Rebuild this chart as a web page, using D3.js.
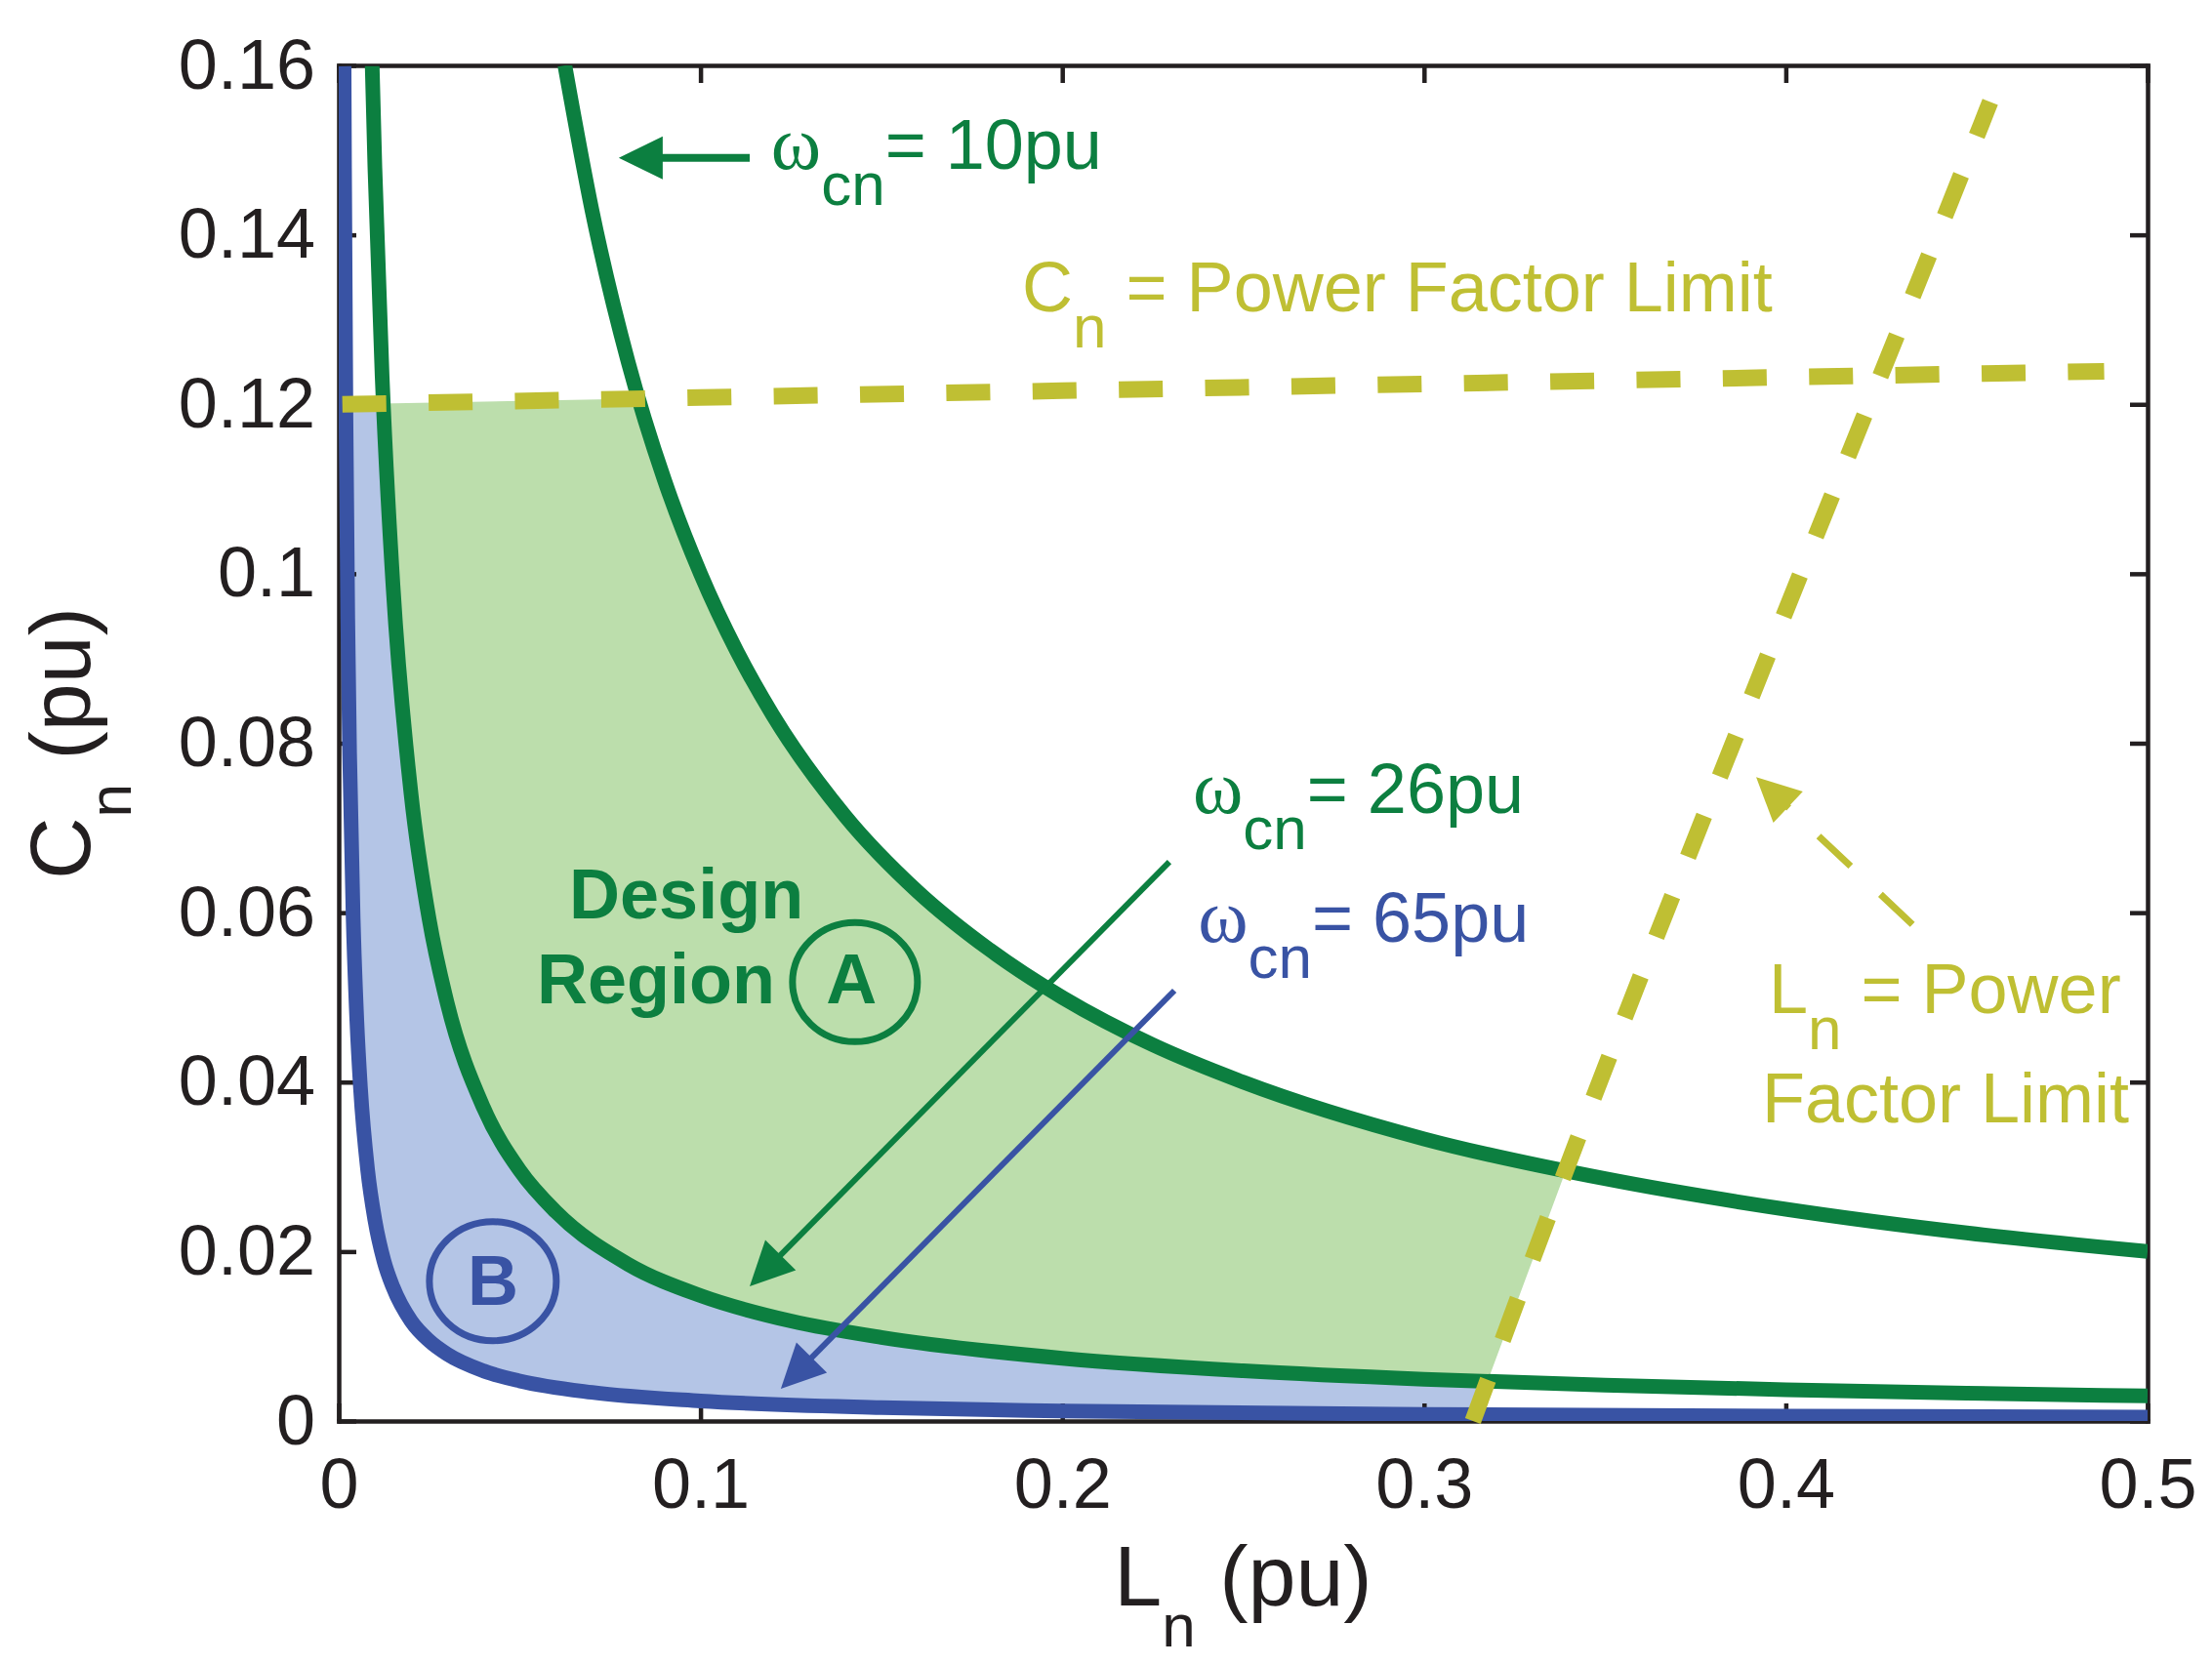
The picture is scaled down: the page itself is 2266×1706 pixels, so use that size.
<!DOCTYPE html>
<html>
<head>
<meta charset="utf-8">
<style>
  body { margin: 0; background: #fff; }
  text { font-family: "Liberation Sans", Arial, Helvetica, sans-serif; white-space: pre; }
  tspan.greek { font-family: "Liberation Serif", "DejaVu Serif", "Times New Roman", serif; }
</style>
</head>
<body>
<svg width="2266" height="1706"></svg>
<script src="https://d3js.org/d3.v7.min.js"></script>
<script>
// tick values / labels
const xTicks = [0, 0.1, 0.2, 0.3, 0.4, 0.5];
const xTickLabels = ["0", "0.1", "0.2", "0.3", "0.4", "0.5"];
const yTicks = [0, 0.02, 0.04, 0.06, 0.08, 0.1, 0.12, 0.14, 0.16];
const yTickLabels = ["0", "0.02", "0.04", "0.06", "0.08", "0.1", "0.12", "0.14", "0.16"];

// omega_cn = 10pu curve
const w10L = [0.0625, 0.07, 0.08, 0.09, 0.1, 0.11, 0.12, 0.14, 0.16, 0.18, 0.2, 0.225, 0.25, 0.3, 0.35, 0.4, 0.45, 0.5];
const w10C = [0.16, 0.1429, 0.125, 0.1111, 0.1, 0.0909, 0.0833, 0.0714, 0.0625, 0.0556, 0.05, 0.0444, 0.04, 0.0333, 0.0286, 0.025, 0.0222, 0.02];

// omega_cn = 26pu curve
const w26L = [0.00925, 0.01, 0.012, 0.015, 0.02, 0.025, 0.03, 0.04, 0.05, 0.06, 0.08, 0.1, 0.125, 0.15, 0.2, 0.25, 0.3, 0.35, 0.4, 0.45, 0.5];
const w26C = [0.1599, 0.1479, 0.1233, 0.0986, 0.074, 0.0592, 0.0493, 0.037, 0.0296, 0.0247, 0.0185, 0.0148, 0.0118, 0.00986, 0.0074, 0.00592, 0.00493, 0.00423, 0.0037, 0.00329, 0.00296];

// omega_cn = 65pu curve
const w65L = [0.00148, 0.0016, 0.002, 0.0025, 0.003, 0.004, 0.005, 0.006, 0.008, 0.01, 0.0125, 0.015, 0.02, 0.025, 0.03, 0.04, 0.05, 0.07, 0.1, 0.15, 0.2, 0.3, 0.4, 0.5];
const w65C = [0.1599, 0.1479, 0.1183, 0.0947, 0.0789, 0.0592, 0.0473, 0.0394, 0.0296, 0.0237, 0.0189, 0.0158, 0.0118, 0.00947, 0.00789, 0.00592, 0.00473, 0.00338, 0.00237, 0.00158, 0.00118, 0.00079, 0.00059, 0.00047];

// power factor limits (dashed)
const cnLimL = [0.001, 0.1, 0.2, 0.3, 0.4, 0.488];
const cnLimC = [0.12, 0.1208, 0.1216, 0.1224, 0.1232, 0.1239];
const lnLimL = [0.3135, 0.34, 0.391, 0.454, 0.4565];
const lnLimC = [0, 0.0305, 0.086, 0.153, 0.1557];

const green = "#0c7f40", blue = "#3953a4", olive = "#bfbf33", ink = "#231f20";
const fillA = "#bcdeac", fillB = "#b4c5e6";

const svg = d3.select("svg");
const x = d3.scaleLinear().domain([0, 0.5]).range([347, 2200]);
const y = d3.scaleLinear().domain([0, 0.16]).range([1456, 67]);

const pts = (L, C) => L.map((v, i) => [v, C[i]]);
const line = d3.line().x(d => x(d[0])).y(d => y(d[1])).curve(d3.curveMonotoneX);
const area = d3.area().x(d => x(d[0])).y0(y(0)).y1(d => y(d[1])).curve(d3.curveMonotoneX);

const defs = svg.append("defs");
defs.append("clipPath").attr("id", "plot").append("rect")
  .attr("x", x(0)).attr("y", y(0.16)).attr("width", x(0.5) - x(0)).attr("height", y(0) - y(0.16));
// region below the Cn limit
defs.append("clipPath").attr("id", "belowCn").append("path")
  .attr("d", d3.line()([[x(0), y(0)], [x(0), y(cnLimC[0])]]
    .concat(pts(cnLimL, cnLimC).map(d => [x(d[0]), y(d[1])]))
    .concat([[x(0.5), y(cnLimC[cnLimC.length - 1])], [x(0.5), y(0)]])) + "Z");
// region left of the Ln limit
defs.append("clipPath").attr("id", "leftLn").append("path")
  .attr("d", d3.line()([[x(0), y(0)]]
    .concat(pts(lnLimL, lnLimC).map(d => [x(d[0]), y(d[1])]))
    .concat([[x(lnLimL[lnLimL.length - 1]), y(0.16)], [x(0), y(0.16)]])) + "Z");

// shaded design regions
const fills = svg.append("g").attr("clip-path", "url(#belowCn)")
  .append("g").attr("clip-path", "url(#leftLn)");
fills.append("path").attr("d", area([[0, 0.16]].concat(pts(w10L, w10C)))).attr("fill", fillA);
fills.append("path").attr("d", area([[0, 0.16]].concat(pts(w26L, w26C)))).attr("fill", fillB);
fills.append("path").attr("d", area([[0, 0.16]].concat(pts(w65L, w65C)))).attr("fill", "#fff");

// axes (box with inward ticks)
const axes = svg.append("g");
axes.append("g").attr("transform", `translate(0,${y(0)})`)
  .call(d3.axisBottom(x).tickValues(xTicks).tickFormat((d, i) => xTickLabels[i]).tickSizeInner(-18).tickSizeOuter(0).tickPadding(38));
axes.append("g").attr("transform", `translate(${x(0)},0)`)
  .call(d3.axisLeft(y).tickValues(yTicks).tickFormat((d, i) => yTickLabels[i]).tickSizeInner(-18).tickSizeOuter(0).tickPadding(24));
axes.append("g").attr("transform", `translate(0,${y(0.16)})`)
  .call(d3.axisTop(x).tickValues(xTicks).tickFormat("").tickSizeInner(-18).tickSizeOuter(0));
axes.append("g").attr("transform", `translate(${x(0.5)},0)`)
  .call(d3.axisRight(y).tickValues(yTicks).tickFormat("").tickSizeInner(-18).tickSizeOuter(0));
axes.selectAll("path.domain").attr("stroke", ink).attr("stroke-width", 4.5).attr("stroke-linecap", "square");
axes.selectAll(".tick line").attr("stroke", ink).attr("stroke-width", 4.5);
axes.selectAll(".tick text").attr("fill", ink).attr("font-size", 72);

// curves
const curves = svg.append("g").attr("clip-path", "url(#plot)").attr("fill", "none").attr("stroke-width", 15);
curves.append("path").attr("d", line(pts(w10L, w10C))).attr("stroke", green);
curves.append("path").attr("d", line(pts(w26L, w26C))).attr("stroke", green);
curves.append("path").attr("d", line(pts(w65L, w65C))).attr("stroke", blue);

// limit lines
const lim = svg.append("g").attr("fill", "none").attr("stroke", olive).attr("stroke-width", 17).attr("stroke-dasharray", "45 43.4");
lim.append("path").attr("d", d3.line().x(d => x(d[0])).y(d => y(d[1]))(pts(cnLimL, cnLimC)));
lim.append("path").attr("d", d3.line().x(d => x(d[0])).y(d => y(d[1])).curve(d3.curveMonotoneY)(pts(lnLimL, lnLimC)));

// arrows
function arrow(L0, C0, L1, C1, color, width, dash) {
  const x0 = x(L0), y0 = y(C0), x1 = x(L1), y1 = y(C1);
  const len = Math.hypot(x1 - x0, y1 - y0), ux = (x1 - x0) / len, uy = (y1 - y0) / len;
  const hl = 45, hw = 22;
  const bx = x1 - ux * hl, by = y1 - uy * hl;
  svg.append("line").attr("x1", x0).attr("y1", y0).attr("x2", bx + ux * 2).attr("y2", by + uy * 2)
    .attr("stroke", color).attr("stroke-width", width).attr("stroke-dasharray", dash || null);
  svg.append("path").attr("fill", color)
    .attr("d", `M${x1},${y1}L${bx - uy * hw},${by + ux * hw}L${bx + uy * hw},${by - ux * hw}Z`);
}
arrow(0.1136, 0.1491, 0.0774, 0.1491, green, 8);
arrow(0.2296, 0.066, 0.1136, 0.0159, green, 6);
arrow(0.231, 0.0508, 0.1222, 0.0038, blue, 6);
arrow(0.435, 0.0586, 0.3918, 0.076, olive, 7, "45 42");

// labels with subscripts
function subText(L, C, main, sub, rest, color, greek) {
  const t = svg.append("text").attr("x", x(L)).attr("y", y(C)).attr("fill", color).attr("font-size", 72);
  const m = t.append("tspan").text(main);
  if (greek) m.attr("class", "greek").attr("font-size", 78);
  t.append("tspan").text(sub).attr("font-size", 62).attr("dy", 37);
  t.append("tspan").text(rest).attr("dy", -37);
  return t;
}
subText(0.1195, 0.1478, "ω", "cn", "= 10pu", green, true);
subText(0.2361, 0.0718, "ω", "cn", "= 26pu", green, true);
subText(0.2375, 0.0566, "ω", "cn", "= 65pu", blue, true);
subText(0.1889, 0.131, "C", "n", " = Power Factor Limit", olive);
subText(0.3953, 0.0481, "L", "n", " = Power", olive);
svg.append("text").attr("x", x(0.3934)).attr("y", y(0.0352)).attr("fill", olive).attr("font-size", 72).text("Factor Limit");

// design region labels
svg.append("text").attr("x", x(0.0637)).attr("y", y(0.0593)).attr("fill", green)
  .attr("font-size", 72).attr("font-weight", "bold").text("Design");
svg.append("text").attr("x", x(0.0548)).attr("y", y(0.0493)).attr("fill", green)
  .attr("font-size", 72).attr("font-weight", "bold").text("Region");
svg.append("ellipse").attr("cx", x(0.1427)).attr("cy", y(0.0518)).attr("rx", 64).attr("ry", 61)
  .attr("fill", "none").attr("stroke", green).attr("stroke-width", 7);
svg.append("text").attr("x", x(0.1417)).attr("y", y(0.0493)).attr("text-anchor", "middle").attr("fill", green)
  .attr("font-size", 72).attr("font-weight", "bold").text("A");
svg.append("ellipse").attr("cx", x(0.0426)).attr("cy", y(0.0165)).attr("rx", 65).attr("ry", 61)
  .attr("fill", "none").attr("stroke", blue).attr("stroke-width", 7);
svg.append("text").attr("x", x(0.0426)).attr("y", y(0.0137)).attr("text-anchor", "middle").attr("fill", blue)
  .attr("font-size", 72).attr("font-weight", "bold").text("B");

// axis titles
const xt = svg.append("text").attr("x", (x(0) + x(0.5)) / 2).attr("y", 1645)
  .attr("text-anchor", "middle").attr("fill", ink).attr("font-size", 88);
xt.append("tspan").text("L");
xt.append("tspan").text("n").attr("font-size", 62).attr("dy", 42);
xt.append("tspan").text(" (pu)").attr("dy", -42);

const yt = svg.append("text").attr("transform", `translate(92,${(y(0) + y(0.16)) / 2}) rotate(-90)`)
  .attr("text-anchor", "middle").attr("fill", ink).attr("font-size", 88);
yt.append("tspan").text("C");
yt.append("tspan").text("n").attr("font-size", 62).attr("dy", 42);
yt.append("tspan").text(" (pu)").attr("dy", -42);
</script>
</body>
</html>
